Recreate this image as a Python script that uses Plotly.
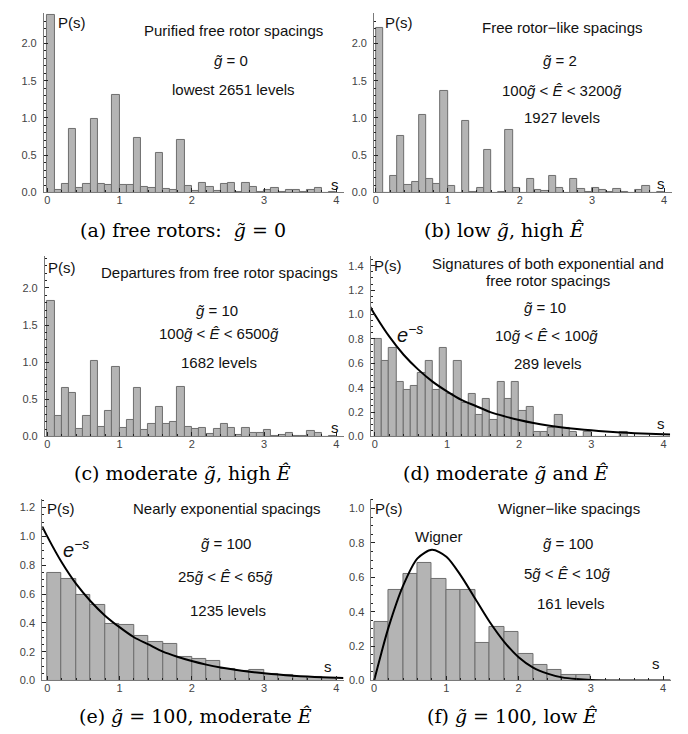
import numpy as np
import plotly.graph_objects as go

W, H = 688, 734

# ---------------- data ----------------
bin_width_ad = 0.1   # panels a-d
bin_width_ef = 0.2   # panels e-f

p_a = [2.38, 0.03, 0.12, 0.85, 0.055, 0.12, 0.99, 0.115, 0.10, 1.31,
       0.105, 0.105, 0.735, 0.07, 0.065, 0.535, 0.045, 0.035, 0.71, 0.09,
       0.015, 0.13, 0.075, 0.015, 0.12, 0.13, 0.005, 0.13, 0.075, 0.005,
       0.03, 0.055, 0.005, 0.04, 0.03, 0.005, 0.035, 0.06, 0.0, 0.01]

p_b = [2.21, 0.0, 0.22, 0.76, 0.095, 0.147, 1.035, 0.18, 0.12, 1.36,
       0.088, 0.0, 0.955, 0.012, 0.063, 0.57, 0.0, 0.01, 0.835, 0.066,
       0.0, 0.187, 0.035, 0.015, 0.227, 0.06, 0.0, 0.18, 0.048, 0.012,
       0.065, 0.04, 0.01, 0.045, 0.012, 0.0, 0.032, 0.09, 0.0, 0.01]

p_c = [1.83, 0.275, 0.653, 0.587, 0.107, 0.275, 1.01, 0.125, 0.342, 0.942,
       0.12, 0.222, 0.649, 0.093, 0.173, 0.396, 0.175, 0.196, 0.662, 0.129,
       0.098, 0.108, 0.038, 0.104, 0.175, 0.109, 0.024, 0.118, 0.051, 0.045,
       0.082, 0.003, 0.018, 0.049, 0.005, 0.005, 0.08, 0.049, 0.0, 0.01]

p_d = [0.796, 0.623, 0.727, 0.45, 0.381, 0.415, 0.519, 0.623, 0.381, 0.727,
       0.346, 0.623, 0.277, 0.346, 0.173, 0.311, 0.138, 0.45, 0.311, 0.45,
       0.208, 0.242, 0.035, 0.035, 0.069, 0.173, 0.069, 0.035, 0.0, 0.035,
       0.0, 0.0, 0.0, 0.0, 0.035, 0.0, 0.0, 0.0, 0.0, 0.0]

p_e = [0.747, 0.706, 0.591, 0.526, 0.395, 0.384, 0.31, 0.269, 0.255, 0.166,
       0.149, 0.136, 0.08, 0.067, 0.071, 0.044, 0.041, 0.025, 0.023, 0.018]

p_f = [0.342, 0.528, 0.621, 0.683, 0.590, 0.528, 0.528, 0.217, 0.311, 0.280,
       0.155, 0.093, 0.062, 0.031, 0.031, 0.0, 0.0, 0.0, 0.0, 0.0]

# reference curves
exp_s = [-0.07, 0.0, 0.2, 0.4, 0.6, 0.8, 1.0, 1.2, 1.4, 1.6, 1.8, 2.0,
         2.2, 2.4, 2.6, 2.8, 3.0, 3.2, 3.4, 3.6, 3.8, 4.0, 4.1]
exp_p = [1.07, 1.0, 0.82, 0.67, 0.55, 0.45, 0.37, 0.30, 0.25, 0.20, 0.165,
         0.135, 0.11, 0.09, 0.074, 0.061, 0.05, 0.041, 0.033, 0.027, 0.022,
         0.018, 0.017]
wig_s = [0.0, 0.1, 0.2, 0.4, 0.6, 0.8, 1.0, 1.2, 1.4, 1.6, 1.8, 2.0, 2.2,
         2.4, 2.6, 2.8, 3.0, 3.4, 4.1]
wig_p = [0.0, 0.16, 0.31, 0.55, 0.71, 0.76, 0.72, 0.61, 0.475, 0.34, 0.225,
         0.135, 0.075, 0.04, 0.018, 0.008, 0.003, 0.0, 0.0]

x_ticks = [0, 1, 2, 3, 4]

G = "<i>g\u0303</i>"
E = "<i>Ê</i>"

panels = [
    dict(key="a", vals=p_a, bw=bin_width_ad, dom=(35, 335, 5, 186),
         xr=(-0.046, 4.1), yr=(0, 2.41), dt=0.5, mdt=0.1,
         caption="(a) free rotors:  " + G + " = 0", cap=(174, 224),
         texts=[("Purified free rotor spacings", 225, 23),
                (G + " = 0", 222, 53),
                ("lowest 2651 levels", 225, 82)],
         ps=(63, 15), s=(326, 178)),
    dict(key="b", vals=p_b, bw=bin_width_ad, dom=(365.7, 664, 5, 186),
         xr=(-0.022, 4.11), yr=(0, 2.41), dt=0.5, mdt=0.1,
         caption="(b) low " + G + ", high " + E, cap=(496, 224),
         texts=[("Free rotor\u2212like spacings", 554, 20),
                (G + " = 2", 552, 53),
                ("100" + G + " < " + E + " < 3200" + G, 554, 83),
                ("1927 levels", 554, 110)],
         ps=(391, 15), s=(653, 177)),
    dict(key="c", vals=p_c, bw=bin_width_ad, dom=(36, 335, 250, 432),
         xr=(-0.032, 4.1), yr=(0, 2.43), dt=0.5, mdt=0.1,
         caption="(c) moderate " + G + ", high " + E, cap=(174, 469),
         texts=[("Departures from free rotor spacings", 211, 267),
                (G + " = 10", 208, 305),
                ("100" + G + " < " + E + " < 6500" + G, 210, 328),
                ("1682 levels", 210, 357)],
         ps=(53, 262), s=(326, 423)),
    dict(key="d", vals=p_d, bw=bin_width_ad, dom=(362.3, 662, 250, 432),
         xr=(-0.055, 4.09), yr=(0, 1.48), dt=0.2, mdt=0.05,
         caption="(d) moderate " + G + " and " + E, cap=(497, 469),
         texts=[("Signatures of both exponential and", 540, 258),
                ("free rotor spacings", 540, 275),
                (G + " = 10", 537, 302),
                ("10" + G + " < " + E + " < 100" + G, 538, 330),
                ("289 levels", 540, 358)],
         ps=(380, 260), s=(653, 419), curve="exp", ce=(402, 328)),
    dict(key="e", vals=p_e, bw=bin_width_ef, dom=(33.3, 335, 495, 678),
         xr=(-0.069, 4.1), yr=(0, 1.26), dt=0.2, mdt=0.05,
         caption="(e) " + G + " = 100, moderate " + E, cap=(187, 714),
         texts=[("Nearly exponential spacings", 218, 505),
                (G + " = 100", 217, 540),
                ("25" + G + " < " + E + " < 65" + G, 217, 573),
                ("1235 levels", 219, 607)],
         ps=(52, 505), s=(319, 664), curve="exp", ce=(67, 545)),
    dict(key="f", vals=p_f, bw=bin_width_ef, dom=(363, 663, 495, 678),
         xr=(-0.037, 4.11), yr=(0, 1.056), dt=0.2, mdt=0.05,
         caption="(f) " + G + " = 100, low " + E, cap=(504, 714),
         texts=[("Wigner\u2212like spacings", 561, 505),
                ("Wigner", 431, 533),
                (G + " = 100", 560, 540),
                ("5" + G + " < " + E + " < 10" + G, 559, 570),
                ("161 levels", 563, 600)],
         ps=(381, 505), s=(648, 661), curve="wig"),
]

SANS = "Liberation Sans, Arial, sans-serif"
SERIF = "DejaVu Serif, serif"
AX = "#7a7a7a"
TICK = "#222222"
LBL = "#444444"


def fx(x):
    return x / W


def fy(y):
    return 1 - y / H


fig = go.Figure()
layout = dict(width=W, height=H, margin=dict(l=0, r=0, t=0, b=0),
              paper_bgcolor="white", plot_bgcolor="white",
              showlegend=False, bargap=0, annotations=[])


def ann(text, x, y, size=15, family=SANS, color="#111111"):
    layout["annotations"].append(dict(
        text=text, x=fx(x), y=fy(y), xref="paper", yref="paper",
        xanchor="center", yanchor="middle", showarrow=False,
        font=dict(family=family, size=size, color=color)))


for i, p in enumerate(panels):
    n = i + 1
    xa = "x" if n == 1 else f"x{n}"
    ya = "y" if n == 1 else f"y{n}"
    xkey = "xaxis" if n == 1 else f"xaxis{n}"
    ykey = "yaxis" if n == 1 else f"yaxis{n}"
    vals = p["vals"]
    bw = p["bw"]
    centers = (np.arange(len(vals)) + 0.5) * bw
    fig.add_trace(go.Bar(x=centers, y=vals, width=bw, xaxis=xa, yaxis=ya,
                         marker=dict(color="#b4b4b4",
                                     line=dict(color="#6e6e6e", width=1)),
                         hoverinfo="skip"))
    if p.get("curve") == "exp":
        fig.add_trace(go.Scatter(x=exp_s, y=exp_p, mode="lines", xaxis=xa,
                                 yaxis=ya, line=dict(color="black", width=2,
                                                     shape="spline", smoothing=0.8)))
    elif p.get("curve") == "wig":
        fig.add_trace(go.Scatter(x=wig_s, y=wig_p, mode="lines", xaxis=xa,
                                 yaxis=ya, line=dict(color="black", width=2,
                                                     shape="spline", smoothing=0.8)))
    x0, x1, y0, y1 = p["dom"]
    layout[xkey] = dict(domain=[fx(x0), fx(x1)], range=list(p["xr"]),
                        anchor=ya, showline=True, linecolor=AX, linewidth=1,
                        showgrid=False, zeroline=False,
                        tickmode="array", tickvals=x_ticks,
                        ticktext=[str(t) for t in x_ticks],
                        ticks="inside", ticklen=4, tickcolor=TICK, tickwidth=1,
                        minor=dict(dtick=0.2, tick0=0, ticks="inside",
                                   ticklen=2, tickcolor=TICK),
                        tickfont=dict(family=SANS, size=11, color=LBL),
                        ticklabelstandoff=-3, fixedrange=True)
    layout[ykey] = dict(domain=[fy(y1), fy(y0)], range=list(p["yr"]),
                        anchor=xa, showline=True, linecolor=AX, linewidth=1,
                        showgrid=False, zeroline=False,
                        tickmode="linear", tick0=0, dtick=p["dt"],
                        tickformat=".1f",
                        ticks="inside", ticklen=4, tickcolor=TICK, tickwidth=1,
                        minor=dict(dtick=p["mdt"], tick0=0, ticks="inside",
                                   ticklen=2, tickcolor=TICK),
                        tickfont=dict(family=SANS, size=11, color=LBL),
                        ticklabelstandoff=4, fixedrange=True)

    for t, x, y in p["texts"]:
        ann(t, x, y)
    ann("P(s)", p["ps"][0], p["ps"][1])
    ann("s", p["s"][0], p["s"][1])
    if "ce" in p:
        ann("<i>e</i><sup>\u2212<i>s</i></sup>", p["ce"][0], p["ce"][1], size=20)
    ann(p["caption"], p["cap"][0], p["cap"][1], size=19, family=SERIF,
        color="#000000")

fig.update_layout(**layout)
fig.write_html("out.html")
